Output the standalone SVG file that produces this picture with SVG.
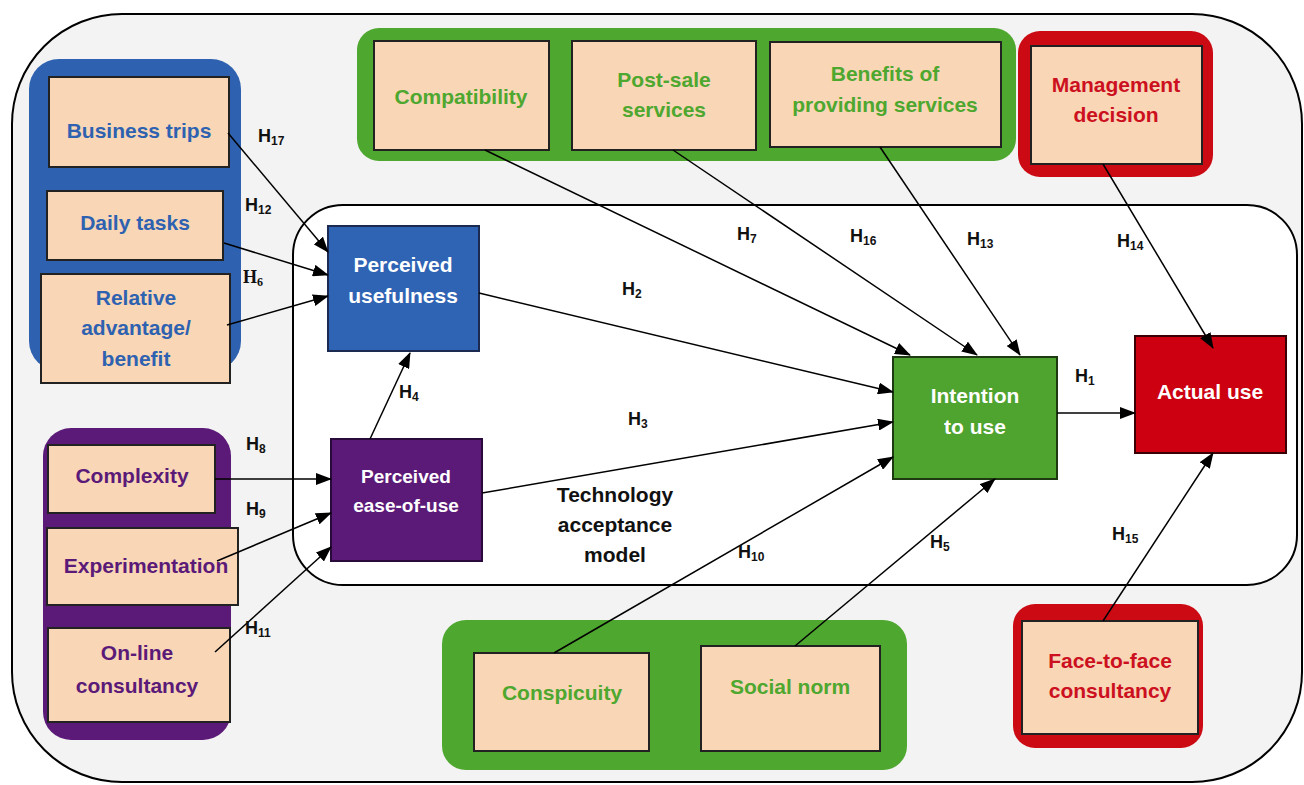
<svg xmlns="http://www.w3.org/2000/svg" width="1304" height="785" viewBox="0 0 1304 785">
<defs>
<marker id="ah" markerUnits="userSpaceOnUse" markerWidth="16" markerHeight="12" refX="15" refY="6" orient="auto">
<path d="M0,0 L16,6 L0,12 Z" fill="#000"/>
</marker>
<style>
text{font-family:"Liberation Sans",Arial,sans-serif;font-weight:bold;text-anchor:middle}
.lbl{font-size:21px}
.box{fill:#f8d6b6;stroke:#222;stroke-width:2}
.bt{fill:#2e62b0}
.gt{fill:#4ea72e}
.pt{fill:#5b1a78}
.rt{fill:#cc1020}
.wt{fill:#fff}
.h{font-size:18px;text-anchor:start;fill:#111}
.h tspan{font-size:12px}
.hs{font-family:"Liberation Serif","Times New Roman",serif}
.con{stroke:#000;stroke-width:1.5;fill:none;marker-end:url(#ah)}
</style>
</defs>
<rect width="1304" height="785" fill="#fff"/>
<rect id="outer" x="12" y="14" width="1290" height="768" rx="110" ry="110" fill="#f3f3f3" stroke="#000" stroke-width="2"/>
<g id="tam">
<rect x="293" y="205" width="1004" height="380" rx="50" ry="50" fill="#fff" stroke="#000" stroke-width="2"/>
<text class="lbl" x="615" y="502" fill="#111">Technology</text>
<text class="lbl" x="615" y="532" fill="#111">acceptance</text>
<text class="lbl" x="615" y="562" fill="#111">model</text>
</g>
<g id="blue-group"><rect x="29" y="59" width="212" height="312" rx="30" fill="#2e62b0"/></g>
<g id="purple-group"><rect x="43" y="428" width="188" height="312" rx="28" fill="#5b1a78"/></g>
<g id="green-top-group"><rect x="357" y="28" width="659" height="133" rx="22" fill="#4ea72e"/></g>
<g id="green-bottom-group"><rect x="442" y="620" width="465" height="150" rx="24" fill="#4ea72e"/></g>
<g id="red-top-group"><rect x="1018" y="31" width="195" height="146" rx="22" fill="#cc0a14"/></g>
<g id="red-bottom-group"><rect x="1013" y="604" width="190" height="144" rx="22" fill="#cc0a14"/></g>

<g id="business-trips"><rect class="box" x="49" y="77" width="180" height="90"/><text class="lbl bt" x="139" y="138">Business trips</text></g>
<g id="daily-tasks"><rect class="box" x="47" y="191" width="176" height="69"/><text class="lbl bt" x="135" y="230">Daily tasks</text></g>
<g id="relative-advantage"><rect class="box" x="41" y="274" width="189" height="109"/><text class="lbl bt" x="136" y="305">Relative</text><text class="lbl bt" x="136" y="335">advantage/</text><text class="lbl bt" x="136" y="366">benefit</text></g>

<g id="complexity"><rect class="box" x="48" y="445" width="167" height="68"/><text class="lbl pt" x="132" y="483">Complexity</text></g>
<g id="experimentation"><rect class="box" x="47" y="528" width="191" height="77"/><text class="lbl pt" x="146" y="573">Experimentation</text></g>
<g id="online-consultancy"><rect class="box" x="48" y="628" width="182" height="94"/><text class="lbl pt" x="137" y="660">On-line</text><text class="lbl pt" x="137" y="693">consultancy</text></g>

<g id="compatibility"><rect class="box" x="374" y="41" width="175" height="109"/><text class="lbl gt" x="461" y="104">Compatibility</text></g>
<g id="post-sale"><rect class="box" x="572" y="41" width="184" height="109"/><text class="lbl gt" x="664" y="87">Post-sale</text><text class="lbl gt" x="664" y="117">services</text></g>
<g id="benefits"><rect class="box" x="770" y="42" width="231" height="105"/><text class="lbl gt" x="885" y="81">Benefits of</text><text class="lbl gt" x="885" y="112">providing services</text></g>

<g id="management-decision"><rect class="box" x="1031" y="46" width="171" height="118"/><text class="lbl rt" x="1116" y="92">Management</text><text class="lbl rt" x="1116" y="122">decision</text></g>
<g id="face-to-face"><rect class="box" x="1022" y="621" width="176" height="113"/><text class="lbl rt" x="1110" y="668">Face-to-face</text><text class="lbl rt" x="1110" y="698">consultancy</text></g>

<g id="conspicuity"><rect class="box" x="474" y="653" width="175" height="98"/><text class="lbl gt" x="562" y="700">Conspicuity</text></g>
<g id="social-norm"><rect class="box" x="701" y="646" width="179" height="105"/><text class="lbl gt" x="790" y="694">Social norm</text></g>

<g id="perceived-usefulness"><rect x="328" y="226" width="151" height="125" fill="#2f63b3" stroke="#1a2a50" stroke-width="2"/><text class="lbl wt" x="403" y="272">Perceived</text><text class="lbl wt" x="403" y="303">usefulness</text></g>
<g id="perceived-ease"><rect x="331" y="439" width="151" height="122" fill="#5b1a78" stroke="#2a0a3a" stroke-width="2"/><text class="lbl wt" x="406" y="483" style="font-size:19px">Perceived</text><text class="lbl wt" x="406" y="512" style="font-size:19px">ease-of-use</text></g>
<g id="intention"><rect x="893" y="357" width="164" height="122" fill="#4fa32f" stroke="#1e3a10" stroke-width="2"/><text class="lbl wt" x="975" y="403">Intention</text><text class="lbl wt" x="975" y="434">to use</text></g>
<g id="actual-use"><rect x="1135" y="336" width="151" height="117" fill="#cc0010" stroke="#3a0005" stroke-width="2"/><text class="lbl wt" x="1210" y="399">Actual use</text></g>

<g id="connectors">
<line class="con" x1="228" y1="133" x2="328" y2="252"/>
<line class="con" x1="224" y1="243" x2="328" y2="275"/>
<line class="con" x1="227" y1="325" x2="328" y2="296"/>
<line class="con" x1="215" y1="479" x2="331" y2="479"/>
<line class="con" x1="217" y1="561" x2="331" y2="513"/>
<line class="con" x1="215" y1="652" x2="331" y2="547"/>
<line class="con" x1="370" y1="439" x2="410" y2="353"/>
<line class="con" x1="479" y1="293" x2="893" y2="392"/>
<line class="con" x1="482" y1="493" x2="893" y2="422"/>
<line class="con" x1="554" y1="653" x2="893" y2="457"/>
<line class="con" x1="795" y1="646" x2="995" y2="479"/>
<line class="con" x1="485" y1="150" x2="910" y2="355"/>
<line class="con" x1="673" y1="150" x2="977" y2="355"/>
<line class="con" x1="880" y1="147" x2="1020" y2="355"/>
<line class="con" x1="1057" y1="413" x2="1135" y2="413"/>
<line class="con" x1="1103" y1="164" x2="1213" y2="348"/>
<line class="con" x1="1103" y1="621" x2="1213" y2="453"/>
</g>

<g id="labels">
<text class="h" x="258" y="142">H<tspan dy="3">17</tspan></text>
<text class="h" x="245" y="211">H<tspan dy="3">12</tspan></text>
<text class="h hs" x="243" y="283">H<tspan dy="3">6</tspan></text>
<text class="h" x="246" y="450">H<tspan dy="3">8</tspan></text>
<text class="h" x="246" y="515">H<tspan dy="3">9</tspan></text>
<text class="h" x="245" y="634">H<tspan dy="3">11</tspan></text>
<text class="h" x="399" y="398">H<tspan dy="3">4</tspan></text>
<text class="h" x="622" y="295">H<tspan dy="3">2</tspan></text>
<text class="h" x="628" y="425">H<tspan dy="3">3</tspan></text>
<text class="h" x="737" y="240">H<tspan dy="3">7</tspan></text>
<text class="h" x="850" y="242">H<tspan dy="3">16</tspan></text>
<text class="h" x="967" y="245">H<tspan dy="3">13</tspan></text>
<text class="h" x="1117" y="247">H<tspan dy="3">14</tspan></text>
<text class="h" x="1075" y="382">H<tspan dy="3">1</tspan></text>
<text class="h" x="1112" y="540">H<tspan dy="3">15</tspan></text>
<text class="h" x="738" y="558">H<tspan dy="3">10</tspan></text>
<text class="h" x="930" y="548">H<tspan dy="3">5</tspan></text>
</g>
</svg>
